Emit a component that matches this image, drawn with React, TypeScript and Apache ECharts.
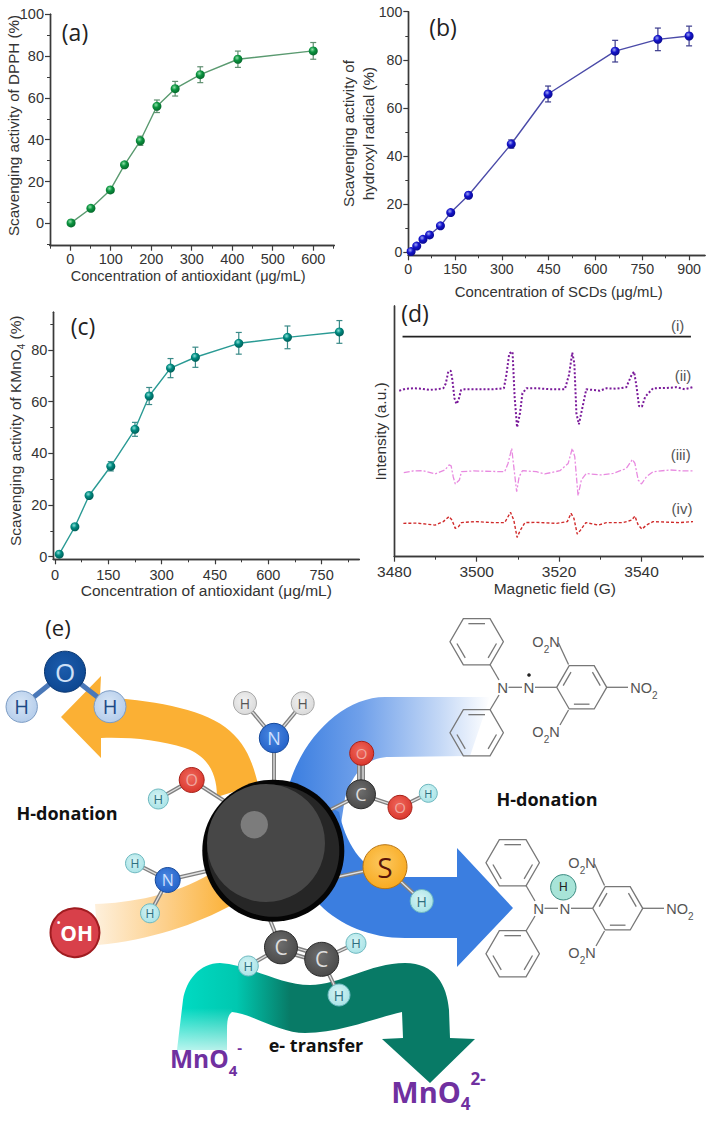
import React, { useEffect, useRef } from 'react';
import * as echarts from 'echarts';

const SANS = '"Liberation Sans", Arial, sans-serif';
const OPEN = '"Open Sans", sans-serif';

// (a) DPPH
const dpphConc = [2, 51, 99, 134, 173, 214, 259, 321, 414, 600];
const dpphValue = [0.2, 7.2, 16, 28, 39.5, 56, 64.4, 71.1, 78.5, 82.5];
const dpphErr = [0.6, 1, 1, 1.2, 2.2, 3, 3.5, 3.8, 3.9, 4];

// (b) hydroxyl radical
const hydroxylConc = [9, 27, 47, 68, 103, 136, 193, 330, 448, 663, 800, 900];
const hydroxylValue = [0.3, 2.6, 5.4, 7.2, 11, 16.5, 23.7, 45, 65.8, 83.6, 88.5, 89.9];
const hydroxylErr = [0.3, 0.4, 0.5, 0.5, 0.6, 0.8, 1, 1.7, 3.3, 4.5, 4.7, 4.1];

// (c) KMnO4
const kmnoConc = [12, 56, 96, 157, 225, 265, 325, 395, 517, 654, 800];
const kmnoValue = [1, 11.6, 23.7, 35, 49.3, 62.2, 73, 77.2, 82.6, 84.9, 87];
const kmnoErr = [0.4, 0.6, 1, 1.8, 2.7, 3.3, 3.7, 3.9, 4.2, 4.4, 4.4];

// (d) EPR spectra
const fieldI = [3482, 3552];
const intensityI = [87.8, 87.8];
const fieldII = [3481.2, 3482.6, 3484.6, 3486.6, 3488.6, 3490.7, 3491.9, 3492.5, 3493.1, 3493.7, 3494.1, 3494.6, 3495.1, 3495.6, 3496.2, 3497.1, 3499.6, 3504, 3506.6, 3507.2, 3507.9, 3508.7, 3509.2, 3509.8, 3510.5, 3511.1, 3512.1, 3514.5, 3517.8, 3521.4, 3522.4, 3523.2, 3523.7, 3524.2, 3524.8, 3525.7, 3526.6, 3528.3, 3529.9, 3531.5, 3533.9, 3536.3, 3537.6, 3538.2, 3538.8, 3539.4, 3540.1, 3540.9, 3542.8, 3546, 3548.5, 3550.5, 3552.8];
const intensityII = [66.2, 66.9, 67.2, 67, 66.5, 66.9, 67.2, 69.1, 73.8, 74.2, 70.5, 63.2, 60.9, 62.5, 66.5, 66.8, 66.8, 66.8, 67.2, 72.5, 81.1, 81.8, 63.8, 51.6, 57.2, 65.2, 67.2, 67.2, 66.8, 66.8, 72.5, 81.4, 77.1, 57.2, 52.8, 59.8, 66.8, 66.5, 66.2, 67.2, 67, 67.6, 72.5, 73.8, 67.8, 60.1, 59.8, 63.8, 67.2, 67.3, 67.6, 66.8, 67.8];
const fieldIII = [3482.3, 3484.6, 3487, 3489.9, 3492.3, 3493.3, 3493.8, 3494.3, 3494.8, 3495.8, 3496.3, 3499.2, 3504, 3506.8, 3507.6, 3508.5, 3509, 3509.7, 3510.3, 3511.1, 3514.5, 3516.5, 3520.2, 3522.2, 3523.2, 3523.8, 3524.6, 3525.4, 3526.6, 3529.9, 3533.1, 3536.3, 3537.8, 3538.4, 3539.2, 3540, 3541.2, 3542.8, 3546.9, 3550.1, 3552.4];
const intensityIII = [33.5, 34.2, 34.3, 33, 34.6, 36.6, 36.2, 31.9, 29, 30.6, 33.9, 34.2, 34, 33.9, 37.2, 43.2, 35.9, 25.9, 31.9, 34.3, 33.9, 33, 34.3, 37.2, 43.2, 39.9, 24.3, 30.6, 33.2, 32.6, 33.2, 35.2, 38.8, 37.2, 30.6, 29, 31.9, 33.9, 34.6, 34.2, 34.2];
const fieldIV = [3482.2, 3485.4, 3487.8, 3489.9, 3491.9, 3493.3, 3494, 3494.8, 3495.6, 3496.3, 3499.6, 3504, 3506.8, 3508.2, 3509, 3509.8, 3510.6, 3511.7, 3514.5, 3519.4, 3522, 3522.9, 3523.6, 3524.4, 3525.2, 3526.5, 3529.5, 3531.5, 3535.5, 3537.6, 3538.4, 3539.2, 3540.1, 3541.2, 3542.8, 3546, 3549.3, 3552.5];
const intensityIV = [13.3, 13.4, 13, 12.6, 14, 16, 14.6, 11.3, 12, 13.6, 14, 13.6, 13.6, 17.7, 14.6, 7.7, 10.6, 13.6, 13.7, 13.3, 14, 17.3, 15.3, 9, 10.6, 13.6, 12.6, 13.6, 13.6, 14.6, 16.2, 12.6, 11, 12.6, 14, 13.8, 13.6, 14];

// tick labels
const ticksA_x = [0, 100, 200, 300, 400, 500, 600];
const minorA_x = [-50, 50, 150, 250, 350, 450, 550, 650];
const ticksA_y = [0, 20, 40, 60, 80, 100];
const minorA_y = [-10, 10, 30, 50, 70, 90];
const ticksB_x = [0, 150, 300, 450, 600, 750, 900];
const minorB_x = [75, 225, 375, 525, 675, 825];
const minorB_y = [10, 30, 50, 70, 90];
const ticksC_x = [0, 150, 300, 450, 600, 750];
const minorC_x = [75, 225, 375, 525, 675, 825];
const ticksC_y = [0, 20, 40, 60, 80];
const minorC_y = [10, 30, 50, 70, 90];
const ticksD_x = [3480, 3500, 3520, 3540];
const minorD_x = [3490, 3510, 3530, 3550];

const pairs = (xs: number[], ys: number[]) => xs.map((x, i) => [x, ys[i]]);

// arrows of the scheme, in page pixels
echarts.graphic.registerShape('arrowOrangeTop', echarts.graphic.extendPath(
  'M61,717 L101,676 L100,697 C150,700 200,708 225,727 C245,742 252,760 258,784 L217,797 C217,770 205,755 185,748 C160,740 130,737 101,738 L101,758 Z', {}));
echarts.graphic.registerShape('arrowOrangeLow', echarts.graphic.extendPath(
  'M95,904 C130,903 175,895 210,874 L234,904 C195,925 150,940 98,945 Z', {}));
echarts.graphic.registerShape('bandBlue', echarts.graphic.extendPath(
  'M490,697 L385,697 C345,697 305,735 290,782 L340,830 L345,798 C352,775 365,757 390,757 L470,756 Z', {}));
echarts.graphic.registerShape('arrowBlue', echarts.graphic.extendPath(
  'M300,790 L339,812 C345,840 360,870 392,877 L457,877 L457,848 L513,908 L457,967 L457,938 L405,938 C370,938 340,925 320,905 Z', {}));
echarts.graphic.registerShape('arrowGreen', echarts.graphic.extendPath(
  'M177,1050 L183,1000 C186,980 200,963 220,963 C250,965 280,985 310,985 C340,985 370,963 405,963 C435,963 447,985 449,1010 L450,1038 L475,1039 L430,1083 L382,1039 L403,1038 L402,1012 C375,1018 340,1033 305,1033 C280,1033 250,1013 232,1012 C228,1015 227,1020 227,1030 L227,1050 Z', {}));

const circ = (cx: number, cy: number, r: number, fill: any, stroke = 'none', lineWidth = 0) => ({
  type: 'circle', shape: { cx, cy, r }, style: { fill, stroke, lineWidth }, silent: true,
});
const seg = (x1: number, y1: number, x2: number, y2: number, stroke = '#777', lineWidth = 1.3) => ({
  type: 'line', shape: { x1, y1, x2, y2 }, style: { stroke, lineWidth }, silent: true,
});
const txt = (x: number, y: number, text: string, fontSize: number, fill: string, extra: any = {}) => ({
  type: 'text', x, y, silent: true,
  style: { text, fontSize, fill, fontFamily: OPEN, align: 'center', verticalAlign: 'middle', ...extra },
});

// atom palette: fill, highlight, border, label
const atomStyles: Record<string, string[]> = {
  H: ['#a6e2e6', '#d6f4f4', '#6fb9c0', '#2d6f80'],
  Hw: ['#b2cbea', '#d8e6f6', '#7c9cc4', '#1d4a86'],
  Hg: ['#d8d8d8', '#f2f2f2', '#a8a8a8', '#555555'],
  O: ['#d8342a', '#f0685c', '#a82018', '#f0a8a0'],
  Ow: ['#0c4690', '#1c5cac', '#0a3670', '#cfe0f6'],
  N: ['#2260c8', '#4a88e0', '#164a9c', '#cfe0ff'],
  C: ['#474747', '#6e6e6e', '#2a2a2a', '#dddddd'],
  S: ['#f8a81c', '#fcc860', '#b87410', '#5a1408'],
};

const atom = (x: number, y: number, r: number, kind: string, label: string) => {
  const [fill, light, border, ink] = atomStyles[kind];
  const gradient = new echarts.graphic.RadialGradient(0.45, 0.4, 0.65, [
    { offset: 0, color: light },
    { offset: 1, color: fill },
  ]);
  return [
    circ(x, y, r, gradient, border, 1),
    txt(x, y, label, Math.round(r * 1.25), ink),
  ];
};

const bond = (x1: number, y1: number, x2: number, y2: number) => [
  seg(x1, y1, x2, y2, '#808080', 4),
  seg(x1, y1, x2, y2, '#e2e2e2', 1.3),
];

const ring = (cx: number, cy: number, r: number, edges: number[]) => {
  const verts = [0, 1, 2, 3, 4, 5].map(i => [
    cx + r * Math.cos((i * Math.PI) / 3),
    cy + r * Math.sin((i * Math.PI) / 3),
  ]);
  const inner = edges.map(i => {
    const a = verts[i];
    const b = verts[(i + 1) % 6];
    const k = 0.78;
    const ax = cx + (a[0] - cx) * k;
    const ay = cy + (a[1] - cy) * k;
    const bx = cx + (b[0] - cx) * k;
    const by = cy + (b[1] - cy) * k;
    return seg(ax + (bx - ax) * 0.1, ay + (by - ay) * 0.1, bx - (bx - ax) * 0.1, by - (by - ay) * 0.1);
  });
  return [
    { type: 'polygon', shape: { points: verts }, style: { fill: 'none', stroke: '#777', lineWidth: 1.3 }, silent: true },
    ...inner,
  ];
};

const chemRich = {
  b: { fontSize: 14.5, lineHeight: 24, fill: '#555', fontFamily: SANS },
  s: { fontSize: 10, lineHeight: 12, fill: '#555', fontFamily: SANS, verticalAlign: 'bottom' },
};

const dpph = (dx: number, dy: number, radical: boolean) => [
  ...ring(476.7 + dx, 641.7 + dy, 26.7, [0, 2, 4]),
  ...ring(476.7 + dx, 732.7 + dy, 26.7, [0, 2, 4]),
  ...ring(581.7 + dx, 687.3 + dy, 25, [1, 3, 5]),
  seg(490 + dx, 664.5 + dy, 499 + dx, 680 + dy),
  seg(490 + dx, 710 + dy, 499 + dx, 695 + dy),
  seg(508.5 + dx, 687.3 + dy, 522 + dx, 687.3 + dy),
  seg(535 + dx, 687.3 + dy, 556.7 + dx, 687.3 + dy),
  seg(568.5 + dx, 664.5 + dy, 558.5 + dx, 643 + dy),
  seg(568.5 + dx, 710 + dy, 560 + dx, 725 + dy),
  seg(606.7 + dx, 687.3 + dy, 628 + dx, 687.3 + dy),
  txt(502.7 + dx, 687.3 + dy, 'N', 15, '#555', { fontFamily: SANS }),
  txt(529 + dx, 687.3 + dy, 'N', 15, '#555', { fontFamily: SANS }),
  ...(radical ? [circ(529, 675, 1.8, '#222')] : []),
  txt(546 + dx, 642 + dy, '{b|O}{s|2}{b|N}', 15, '#555', { rich: chemRich }),
  txt(546 + dx, 732.3 + dy, '{b|O}{s|2}{b|N}', 15, '#555', { rich: chemRich }),
  txt(644 + dx, 688 + dy, '{b|NO}{s|2}', 15, '#555', { rich: chemRich }),
];

const mnRich = (size: number, line: number, small: number, subLine: number, supLine: number) => {
  const base = { fill: '#7030a0', fontWeight: 'bold', fontFamily: OPEN };
  return {
    b: { ...base, fontSize: size, lineHeight: line },
    s: { ...base, fontSize: small, lineHeight: subLine, verticalAlign: 'bottom' },
    p: { ...base, fontSize: small, lineHeight: supLine, verticalAlign: 'top' },
  };
};

const radicalRich = {
  d: { fontSize: 9, lineHeight: 16, fill: '#fff', fontFamily: OPEN, fontWeight: 'bold', verticalAlign: 'top' },
  b: { fontSize: 21, lineHeight: 30, fill: '#fff', fontFamily: OPEN, fontWeight: 'bold' },
};

const schemeElements = () => [
  // panel letters
  txt(75, 32, '(a)', 23, '#222'),
  txt(443, 27, '(b)', 23, '#222'),
  txt(83, 326, '(c)', 23, '#222'),
  txt(415, 313, '(d)', 23, '#222'),
  txt(58, 627, '(e)', 22, '#222'),
  // labels of the spectra
  txt(677.7, 325, '(i)', 15, '#555', { fontFamily: SANS }),
  txt(683, 375, '(ii)', 15, '#555', { fontFamily: SANS }),
  txt(680.7, 454, '(iii)', 15, '#555', { fontFamily: SANS }),
  txt(682, 508, '(iv)', 15, '#555', { fontFamily: SANS }),

  // arrows
  { type: 'arrowOrangeTop', silent: true, style: { fill: '#fbb034' } },
  {
    type: 'arrowOrangeLow', silent: true,
    style: {
      fill: new echarts.graphic.LinearGradient(0, 0, 1, 0, [
        { offset: 0, color: '#fef0dc' },
        { offset: 0.5, color: '#fdd08c' },
        { offset: 1, color: '#fbb034' },
      ]),
    },
  },
  {
    type: 'bandBlue', silent: true,
    style: {
      fill: new echarts.graphic.LinearGradient(0, 0, 1, 0, [
        { offset: 0, color: '#3b7ee0' },
        { offset: 0.35, color: '#6fa0ea' },
        { offset: 0.75, color: '#c4d8f6' },
        { offset: 1, color: '#ffffff' },
      ]),
    },
  },
  { type: 'arrowBlue', silent: true, style: { fill: '#3b7ee0' } },
  {
    type: 'arrowGreen', silent: true,
    style: {
      fill: new echarts.graphic.LinearGradient(0, 0, 1, 0, [
        { offset: 0, color: '#00dcc4' },
        { offset: 0.2, color: '#00c8b0' },
        { offset: 0.38, color: '#087a66' },
        { offset: 1, color: '#087a66' },
      ]),
    },
  },
  {
    type: 'rect', silent: true, shape: { x: 172, y: 1008, width: 60, height: 44 },
    style: {
      fill: new echarts.graphic.LinearGradient(0, 0, 0, 1, [
        { offset: 0, color: 'rgba(255,255,255,0)' },
        { offset: 1, color: 'rgba(255,255,255,0.75)' },
      ]),
    },
  },

  // water
  seg(65, 671.7, 21.7, 706.7, '#4a78b8', 5),
  seg(65, 671.7, 110, 706.7, '#4a78b8', 5),
  ...atom(21.7, 706.7, 15.7, 'Hw', 'H'),
  ...atom(110, 706.7, 16, 'Hw', 'H'),
  ...atom(65, 671.7, 20.5, 'Ow', 'O'),

  // bonds around the dot
  ...bond(274, 738, 274, 782),
  ...bond(274, 738, 245, 703),
  ...bond(274, 738, 302.7, 703.3),
  ...bond(191.7, 780, 226, 802),
  ...bond(191.7, 780, 158.3, 799),
  ...bond(167.7, 880, 207, 871),
  ...bond(167.7, 880, 135, 863.3),
  ...bond(167.7, 880, 150, 913.3),
  ...bond(361, 794.3, 330, 810),
  ...bond(359, 794.3, 359, 753.3),
  ...bond(363, 794.3, 363, 753.3),
  ...bond(361, 794.3, 400, 807.3),
  ...bond(400, 807.3, 428.3, 793.3),
  ...bond(385, 866.7, 337, 877),
  ...bond(385, 866.7, 421.7, 901),
  ...bond(281, 947.3, 270, 920),
  ...bond(281, 947.3, 248.3, 966),
  ...bond(279, 950, 320, 962),
  ...bond(283, 944, 323, 956),
  ...bond(321.7, 959.3, 356, 943.3),
  ...bond(321.7, 959.3, 339, 995),

  // carbon dot
  circ(273.3, 850.7, 71, '#050505'),
  circ(273.3, 850.7, 66, '#262626'),
  circ(266, 843, 59, '#474747'),
  circ(254.3, 824.7, 13.7, '#7c7c7c'),

  // functional groups
  ...atom(274, 738, 14.7, 'N', 'N'),
  ...atom(245, 703, 11.5, 'Hg', 'H'),
  ...atom(302.7, 703.3, 11.5, 'Hg', 'H'),
  ...atom(191.7, 780, 12.5, 'O', 'O'),
  ...atom(158.3, 799, 10, 'H', 'H'),
  ...atom(167.7, 880, 12.5, 'N', 'N'),
  ...atom(135, 863.3, 9.5, 'H', 'H'),
  ...atom(150, 913.3, 9.5, 'H', 'H'),
  ...atom(361, 794.3, 14.5, 'C', 'C'),
  ...atom(361.7, 753.3, 12, 'O', 'O'),
  ...atom(400, 807.3, 12, 'O', 'O'),
  ...atom(428.3, 793.3, 9, 'H', 'H'),
  ...atom(385, 866.7, 22, 'S', 'S'),
  ...atom(421.7, 901, 11.5, 'H', 'H'),
  ...atom(281, 947.3, 16.5, 'C', 'C'),
  ...atom(321.7, 959.3, 17, 'C', 'C'),
  ...atom(248.3, 966, 10, 'H', 'H'),
  ...atom(356, 943.3, 10, 'H', 'H'),
  ...atom(339, 995, 11, 'H', 'H'),

  // hydroxyl radical
  circ(75, 932.7, 24.5, '#d8404a', '#a01c20', 2),
  txt(75, 933, '{d|•}{b|OH}', 21, '#ffffff', { rich: radicalRich }),

  // captions
  txt(67, 813, 'H-donation', 18, '#111', { fontWeight: 'bold' }),
  txt(547, 799, 'H-donation', 18, '#111', { fontWeight: 'bold' }),
  txt(316, 1045, 'e- transfer', 18, '#111', { fontWeight: 'bold' }),
  txt(206, 1058, '{b|MnO}{s|4}{p|-}', 24.5, '#7030a0', { rich: mnRich(24.5, 38, 15, 16, 26) }),
  txt(438.5, 1091, '{b|MnO}{s|4}{p|2-}', 29, '#7030a0', { rich: mnRich(29, 42, 17, 18, 30) }),

  // DPPH radical and reduced form
  ...dpph(0, 0, true),
  ...dpph(36, 221, false),
  circ(563.3, 887.3, 12.7, '#a8e4d8', '#3a8a80', 1),
  txt(563.3, 887.3, 'H', 12, '#222', { fontFamily: SANS }),
];

interface AxisSpec {
  grid: number;
  min: number;
  max: number;
  major: number[];
  minor: number[];
  name?: any;
  rich?: any;
  nameGap?: number;
  namePadding?: number[];
  margin?: number;
  fontSize?: number;
  nameSize?: number;
  nameLine?: number;
  labels?: boolean;
}

const axisColor = '#3a3a3a';

const axisPair = (pos: string, s: AxisSpec) => {
  const common = {
    type: 'value',
    gridIndex: s.grid,
    position: pos,
    min: s.min,
    max: s.max,
    splitLine: { show: false },
    axisLine: { onZero: false, lineStyle: { color: axisColor, width: 1.4 } },
  };
  return [
    {
      ...common,
      axisTick: { length: 5, inside: false, customValues: s.major, lineStyle: { color: axisColor, width: 1.2 } },
      axisLabel: s.labels === false
        ? { show: false }
        : {
            customValues: s.major,
            formatter: (v: number) => String(v),
            margin: s.margin ?? 6,
            fontSize: s.fontSize ?? 14.5,
            color: '#333',
            fontFamily: SANS,
          },
      name: s.name,
      nameLocation: 'middle',
      nameGap: s.nameGap,
      nameMoveOverlap: false,
      nameTextStyle: {
        fontSize: s.nameSize ?? 14.5,
        lineHeight: s.nameLine,
        color: '#333',
        fontFamily: SANS,
        padding: s.namePadding,
        rich: s.rich,
      },
    },
    {
      ...common,
      axisTick: { length: 3, customValues: s.minor, lineStyle: { color: axisColor, width: 1 } },
      axisLabel: { show: false },
    },
  ];
};

const subRich = (size: number) => ({
  n: { fontSize: size, lineHeight: 22, color: '#333', fontFamily: SANS },
  s: { fontSize: size * 0.65, lineHeight: 12, color: '#333', fontFamily: SANS, verticalAlign: 'bottom' },
});

const errorSeries = (xi: number, yi: number, xs: number[], ys: number[], errs: number[], color: string) => ({
  type: 'custom',
  xAxisIndex: xi,
  yAxisIndex: yi,
  silent: true,
  z: 2,
  data: xs.map((x, i) => [x, ys[i], errs[i]]),
  renderItem: (_: any, api: any) => {
    const x = api.value(0);
    const y = api.value(1);
    const e = api.value(2);
    const top = api.coord([x, y + e]);
    const bot = api.coord([x, y - e]);
    const style = { stroke: color, lineWidth: 1.2 };
    return {
      type: 'group',
      children: [
        { type: 'line', shape: { x1: top[0], y1: top[1], x2: bot[0], y2: bot[1] }, style },
        { type: 'line', shape: { x1: top[0] - 3, y1: top[1], x2: top[0] + 3, y2: top[1] }, style },
        { type: 'line', shape: { x1: bot[0] - 3, y1: bot[1], x2: bot[0] + 3, y2: bot[1] }, style },
      ],
    };
  },
});

const pointSeries = (xi: number, yi: number, xs: number[], ys: number[], line: string, light: string, dot: string, dark: string) => ({
  type: 'line',
  xAxisIndex: xi,
  yAxisIndex: yi,
  data: pairs(xs, ys),
  symbol: 'circle',
  symbolSize: 9,
  z: 3,
  lineStyle: { color: line, width: 1.4 },
  itemStyle: {
    color: new echarts.graphic.RadialGradient(0.4, 0.35, 0.65, [
      { offset: 0, color: light },
      { offset: 0.45, color: dot },
      { offset: 1, color: dark },
    ]),
    borderWidth: 0,
  },
});

const spectrum = (xi: number, yi: number, xs: number[], ys: number[], color: string, width: number, type: any) => ({
  type: 'line',
  xAxisIndex: xi,
  yAxisIndex: yi,
  data: pairs(xs, ys),
  symbol: 'none',
  lineStyle: { color, width, type },
});

const App: React.FC = () => {
  const chartRef = useRef<HTMLDivElement>(null);

  useEffect(() => {
    if (!chartRef.current) return;
    const chart = echarts.init(chartRef.current, undefined, { renderer: 'svg' });

    const xAxes = [
      ...axisPair('bottom', {
        grid: 0, min: -50, max: 652, major: ticksA_x, minor: minorA_x, margin: 6, nameGap: 23,
        name: 'Concentration of antioxidant (μg/mL)', namePadding: [0, 8, 0, 0],
      }),
      ...axisPair('bottom', {
        grid: 1, min: 0, max: 951, major: ticksB_x, minor: minorB_x, margin: 7, nameGap: 29, fontSize: 14.2,
        name: 'Concentration of SCDs (μg/mL)', nameSize: 14.9, namePadding: [0, 0, 0, 4],
      }),
      ...axisPair('bottom', {
        grid: 2, min: -4.7, max: 856, major: ticksC_x, minor: minorC_x, margin: 8, nameGap: 23,
        name: 'Concentration of antioxidant (μg/mL)', nameSize: 15.5,
      }),
      ...axisPair('bottom', {
        grid: 3, min: 3480, max: 3555, major: ticksD_x, minor: minorD_x, margin: 7, nameGap: 24, fontSize: 15.5,
        name: 'Magnetic field (G)', nameSize: 15.5, namePadding: [0, 0, 0, 12],
      }),
    ];
    const yAxes = [
      ...axisPair('left', {
        grid: 0, min: -10.7, max: 100, major: ticksA_y, minor: minorA_y, nameGap: 29,
        name: 'Scavenging activity of DPPH (%)', nameSize: 15.2, namePadding: [0, 0, 0, 9],
      }),
      ...axisPair('left', {
        grid: 1, min: -1.25, max: 100, major: ticksA_y, minor: minorB_y, nameGap: 30, fontSize: 14.2,
        name: 'Scavenging activity of\nhydroxyl radical (%)', nameSize: 15.2, nameLine: 20,
      }),
      ...axisPair('left', {
        grid: 2, min: -1, max: 94.6, major: ticksC_y, minor: minorC_y, nameGap: 27,
        name: '{n|Scavenging activity of KMnO}{s|4}{n| (%)}', rich: subRich(15.4), namePadding: [0, 0, 0, 10],
      }),
      ...axisPair('left', {
        grid: 3, min: 0, max: 100, major: [], minor: [], nameGap: 6, labels: false,
        name: 'Intensity (a.u.)', nameSize: 15.5,
      }),
    ];

    chart.setOption({
      animation: false,
      backgroundColor: '#ffffff',
      grid: [
        { left: 50, top: 14.3, width: 284.3, height: 231.4 },
        { left: 408.3, top: 11.7, width: 296.7, height: 243.6 },
        { left: 53.3, top: 312.3, width: 306, height: 247 },
        { left: 394.3, top: 306, width: 309, height: 250.7 },
      ],
      xAxis: xAxes,
      yAxis: yAxes,
      series: [
        errorSeries(0, 0, dpphConc, dpphValue, dpphErr, '#5f8f70'),
        pointSeries(0, 0, dpphConc, dpphValue, '#5a9a70', '#8fe0a8', '#0b9440', '#066a2c'),
        errorSeries(2, 2, hydroxylConc, hydroxylValue, hydroxylErr, '#3a3a8c'),
        pointSeries(2, 2, hydroxylConc, hydroxylValue, '#4a4aa8', '#a0a8f4', '#1414cc', '#0a0a90'),
        errorSeries(4, 4, kmnoConc, kmnoValue, kmnoErr, '#3a8a88'),
        pointSeries(4, 4, kmnoConc, kmnoValue, '#2a9a94', '#88e0d8', '#008a80', '#005e58'),
        spectrum(6, 6, fieldI, intensityI, '#222222', 1.6, 'solid'),
        spectrum(6, 6, fieldII, intensityII, '#7a1a9a', 2, [2, 2]),
        spectrum(6, 6, fieldIII, intensityIII, '#e88ae0', 1.3, [6, 2, 2, 2]),
        spectrum(6, 6, fieldIV, intensityIV, '#d02a2a', 1.4, [3, 2]),
      ],
      graphic: { elements: schemeElements() },
    });

    return () => chart.dispose();
  }, []);

  return (
    <div
      ref={chartRef}
      style={{ position: 'absolute', left: 0, top: 0, width: 708, height: 1125 }}
    />
  );
};

export default App;
